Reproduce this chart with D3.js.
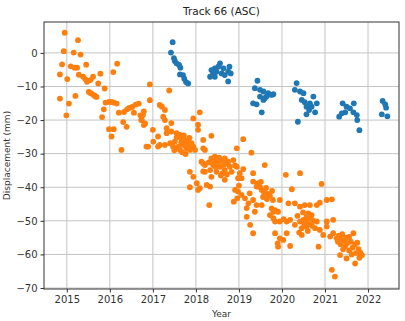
<!DOCTYPE html>
<html><head><meta charset="utf-8">
<script src="https://cdn.jsdelivr.net/npm/d3@7"></script>
<style>
body{margin:0;background:#fff;}
svg{display:block;font-family:"DejaVu Sans",sans-serif;}
</style></head>
<body><svg id="c" width="405" height="321"></svg>
<script>
const title = "Track 66 (ASC)";
const xLabel = "Year";
const yLabel = "Displacement (mm)";
const xTicks = [2015,2016,2017,2018,2019,2020,2021,2022];
const yTicks = [-70,-60,-50,-40,-30,-20,-10,0];

// orange series: [year, displacement]
const orangeSeries = [
[2014.95,6.0],[2015.26,3.8],[2014.93,0.5],[2015.16,0.1],[2015.32,-0.5],[2014.89,-3.4],[2015.09,-4.0],[2015.18,-4.4],
[2015.24,-4.4],[2015.45,-3.5],[2016.17,-3.2],[2014.84,-6.4],[2015.01,-7.8],[2015.28,-6.5],[2015.38,-7.1],[2015.43,-7.8],
[2015.47,-8.6],[2015.55,-8.1],[2015.61,-7.1],[2015.78,-6.2],[2016.08,-5.7],[2015.73,-9.1],[2015.88,-10.6],[2015.51,-11.6],
[2015.57,-12.1],[2015.63,-12.6],[2015.69,-13.1],[2015.66,-12.9],[2015.54,-11.9],[2015.20,-12.8],[2014.84,-13.6],[2015.05,-15.1],
[2014.99,-18.6],[2015.90,-14.8],[2015.98,-14.6],[2016.04,-14.6],[2016.09,-14.8],[2016.16,-15.1],[2015.86,-16.8],[2015.82,-19.1],
[2016.21,-17.8],[2016.33,-17.6],[2016.40,-16.8],[2016.45,-16.4],[2016.52,-16.1],[2016.60,-15.4],[2016.67,-15.1],[2016.56,-17.8],
[2016.71,-18.6],[2016.79,-17.4],[2016.73,-20.0],[2016.31,-20.6],[2016.79,-21.5],[2016.93,-9.4],[2016.93,-14.1],[2016.09,-22.7],
[2015.98,-22.7],[2016.04,-24.9],[2016.39,-22.0],[2017.00,-22.9],[2016.27,-28.9],[2016.85,-27.9],[2017.16,-15.5],[2017.38,-11.2],
[2017.21,-16.0],[2017.28,-17.0],[2016.77,-18.5],[2016.74,-20.0],[2016.82,-21.0],[2017.24,-19.0],[2017.28,-20.0],[2017.43,-20.9],
[2017.94,-19.5],[2018.09,-17.7],[2018.05,-21.4],[2018.05,-22.9],[2017.32,-22.4],[2017.32,-23.9],[2017.43,-23.4],[2017.55,-23.9],
[2017.63,-24.4],[2017.67,-25.4],[2017.74,-25.9],[2017.82,-26.4],[2017.90,-26.9],[2017.94,-27.9],[2017.12,-24.9],[2017.01,-26.4],
[2016.89,-27.9],[2017.16,-27.4],[2017.28,-27.4],[2017.40,-26.9],[2017.51,-26.4],[2017.47,-27.9],[2017.59,-27.9],[2017.70,-27.4],
[2017.78,-28.4],[2017.63,-28.9],[2017.86,-28.9],[2017.98,-28.9],[2017.55,-25.2],[2017.66,-26.6],[2017.72,-24.6],[2017.85,-25.3],
[2017.78,-27.0],[2017.92,-28.0],[2017.68,-29.6],[2017.76,-30.1],[2017.12,-27.9],[2018.17,-25.9],[2018.21,-28.9],[2018.36,-24.7],
[2018.17,-28.4],[2018.95,-28.4],[2019.10,-25.7],[2019.29,-29.7],[2018.13,-32.4],[2018.21,-33.4],[2018.36,-31.4],[2018.44,-30.9],
[2018.52,-32.4],[2018.60,-31.9],[2018.67,-31.4],[2018.75,-32.4],[2018.40,-33.4],[2018.56,-33.9],[2018.64,-33.4],[2018.79,-33.9],
[2018.33,-34.9],[2018.48,-35.4],[2018.67,-34.9],[2018.83,-35.4],[2018.21,-35.4],[2018.98,-37.3],[2019.06,-37.3],[2018.95,-33.9],
[2018.87,-31.9],[2018.91,-33.5],[2019.10,-34.6],[2019.02,-35.8],[2019.33,-35.8],[2019.60,-33.4],[2017.86,-35.4],[2017.94,-36.9],
[2018.02,-38.8],[2018.36,-36.9],[2018.67,-37.8],[2018.58,-36.5],[2018.42,-32.2],[2018.50,-33.0],[2018.70,-33.0],[2018.30,-32.6],
[2017.86,-40.0],[2018.33,-39.8],[2018.05,-40.8],[2018.09,-40.3],[2018.25,-39.3],[2018.17,-32.9],[2018.17,-35.3],[2018.31,-45.3],
[2018.88,-44.3],[2018.96,-43.3],[2018.91,-40.8],[2018.98,-41.3],[2019.06,-42.3],[2019.14,-43.3],[2019.22,-44.8],[2019.33,-43.8],
[2019.41,-45.3],[2019.53,-45.3],[2019.37,-47.3],[2019.18,-48.8],[2019.26,-51.2],[2019.33,-53.7],[2019.33,-38.3],[2019.45,-38.8],
[2019.41,-39.8],[2019.49,-40.0],[2019.53,-40.8],[2019.58,-41.4],[2019.63,-40.2],[2019.67,-42.0],[2019.72,-42.6],[2019.77,-41.1],
[2019.56,-42.9],[2019.65,-43.5],[2019.79,-43.8],[2019.44,-39.0],[2019.51,-38.4],[2020.09,-36.3],[2020.42,-35.8],[2020.23,-40.6],
[2020.92,-39.0],[2019.76,-46.3],[2019.84,-46.8],[2019.91,-47.3],[2019.80,-47.3],[2019.95,-43.8],[2020.15,-44.8],[2020.30,-44.8],
[2020.42,-45.8],[2020.53,-45.3],[2020.65,-45.3],[2020.81,-45.3],[2020.88,-44.6],[2021.04,-43.8],[2021.16,-43.6],[2019.72,-48.3],
[2019.80,-49.2],[2019.84,-50.2],[2019.95,-50.2],[2020.04,-49.5],[2020.11,-50.2],[2020.19,-49.7],[2020.30,-51.2],[2020.42,-50.2],
[2020.50,-49.7],[2020.57,-48.8],[2020.61,-47.8],[2020.69,-48.3],[2020.73,-50.0],[2020.81,-50.2],[2020.46,-52.2],[2020.57,-51.7],
[2020.65,-51.0],[2020.77,-52.2],[2020.88,-52.7],[2020.55,-50.6],[2020.62,-49.4],[2020.70,-51.5],[2020.49,-47.5],[2020.36,-48.5],
[2021.04,-50.2],[2021.19,-49.7],[2021.04,-51.7],[2020.96,-54.2],[2021.12,-54.7],[2021.19,-53.7],[2021.27,-55.2],[2021.32,-54.4],
[2021.36,-55.6],[2021.40,-54.0],[2021.44,-56.0],[2021.48,-55.0],[2021.52,-56.6],[2021.56,-54.8],[2021.36,-57.0],[2021.47,-57.6],
[2019.84,-53.7],[2019.95,-55.2],[2020.03,-55.7],[2019.91,-57.7],[2019.90,-56.7],[2020.19,-57.5],[2020.11,-53.7],[2020.46,-54.2],
[2020.85,-57.7],[2021.35,-60.2],[2021.16,-64.6],[2021.23,-66.6],[2021.66,-53.7],[2021.60,-56.2],[2021.64,-58.0],[2021.70,-57.0],
[2021.75,-56.5],[2021.78,-58.4],[2021.82,-59.5],[2021.86,-60.2],[2021.80,-61.0],[2021.72,-59.6],[2021.50,-61.2],[2021.70,-62.7],
[2021.62,-60.0],[2021.56,-58.8],[2019.25,-41.8],[2019.18,-46.2],[2019.00,-39.5],
[2018.46,-34.0],[2018.62,-35.8],[2018.54,-31.2],[2018.72,-36.2],[2020.52,-51.2],[2020.60,-53.0],[2020.40,-53.5],[2020.67,-49.0],
[2021.42,-58.5],[2021.30,-56.2],[2017.50,-29.0],[2017.88,-27.6]
];

// blue series: [year, displacement]
const blueSeries = [
[2017.46,3.2],[2017.42,0.1],[2017.49,-1.6],[2017.51,-2.4],[2017.55,-3.1],[2017.61,-3.6],[2017.64,-4.4],[2017.63,-6.4],
[2017.70,-6.6],[2017.73,-7.7],[2017.77,-8.7],[2017.82,-9.1],
[2018.56,-3.1],[2018.52,-4.1],[2018.44,-4.6],[2018.36,-5.1],[2018.64,-4.6],[2018.78,-4.1],[2018.75,-5.6],[2018.81,-6.1],
[2018.33,-7.1],[2018.44,-7.1],[2018.60,-6.1],[2018.67,-6.6],[2018.75,-8.5],[2018.40,-6.1],[2018.48,-5.6],
[2019.43,-8.3],[2019.37,-10.5],[2019.49,-11.0],[2019.57,-11.5],[2019.68,-12.0],[2019.76,-12.5],[2019.80,-12.3],[2019.49,-13.0],
[2019.60,-13.5],[2019.57,-14.0],[2019.33,-15.0],[2019.41,-15.3],[2019.53,-17.7],[2019.64,-13.0],
[2020.34,-9.0],[2020.30,-11.0],[2020.42,-11.5],[2020.50,-12.0],[2020.73,-13.0],[2020.46,-14.0],[2020.53,-14.7],[2020.65,-15.0],
[2020.81,-15.0],[2020.57,-16.0],[2020.69,-16.0],[2020.77,-17.7],[2020.57,-18.3],[2020.63,-17.0],[2020.37,-20.5],
[2021.41,-15.0],[2021.67,-15.0],[2021.50,-16.0],[2021.58,-16.5],[2021.39,-18.0],[2021.33,-19.0],[2021.47,-17.7],[2021.66,-17.7],
[2021.74,-18.5],[2021.80,-23.0],[2021.75,-20.0],
[2022.34,-14.3],[2022.40,-15.3],[2022.42,-16.3],[2022.32,-18.3],[2022.45,-18.9]
];

const svg = d3.select("#c");
const L=44, R=399, T=22, B=289;
const x = d3.scaleLinear().domain([2014.47,2022.72]).range([L,R]);
const y = d3.scaleLinear().domain([-70.3,9.2]).range([B,T]);

// grid
const g = svg.append("g");
g.selectAll(".gx").data(xTicks).enter().append("line")
 .attr("x1",d=>x(d)).attr("x2",d=>x(d)).attr("y1",T).attr("y2",B)
 .attr("stroke","#c4c4c4").attr("stroke-width",1);
g.selectAll(".gy").data(yTicks).enter().append("line")
 .attr("y1",d=>y(d)).attr("y2",d=>y(d)).attr("x1",L).attr("x2",R)
 .attr("stroke","#c4c4c4").attr("stroke-width",1);

// points
svg.append("g").selectAll("circle").data(orangeSeries).enter().append("circle")
 .attr("cx",d=>x(d[0])).attr("cy",d=>y(d[1])).attr("r",2.9).attr("fill","#ff7f0e");
svg.append("g").selectAll("circle").data(blueSeries).enter().append("circle")
 .attr("cx",d=>x(d[0])).attr("cy",d=>y(d[1])).attr("r",2.9).attr("fill","#1f77b4");

// axes
const xAxis = d3.axisBottom(x).tickValues(xTicks).tickFormat(d3.format("d")).tickSize(3.5).tickPadding(3);
const yAxis = d3.axisLeft(y).tickValues(yTicks).tickFormat(d=>d<0?"\u2212"+Math.abs(d):d).tickSize(3.5).tickPadding(3);
const ax = svg.append("g").attr("transform",`translate(0,${B})`).call(xAxis);
const ay = svg.append("g").attr("transform",`translate(${L},0)`).call(yAxis);
[ax,ay].forEach(a=>{
  a.select(".domain").remove();
  a.selectAll("line").attr("stroke","#333");
  a.selectAll("text").attr("fill","#333").style("font-size","10px").style("font-family","DejaVu Sans");
});
svg.append("rect").attr("x",L).attr("y",T).attr("width",R-L).attr("height",B-T)
 .attr("fill","none").attr("stroke","#333").attr("stroke-width",1);

svg.append("text").attr("x",(L+R)/2).attr("y",15).attr("text-anchor","middle")
 .style("font-size","10.5px").attr("fill","#222").text(title);
svg.append("text").attr("x",(L+R)/2).attr("y",317).attr("text-anchor","middle")
 .style("font-size","9px").attr("fill","#333").text(xLabel);
svg.append("text").attr("transform",`translate(10,${(T+B)/2}) rotate(-90)`).attr("text-anchor","middle")
 .style("font-size","9px").attr("fill","#333").text(yLabel);
</script></body></html>
